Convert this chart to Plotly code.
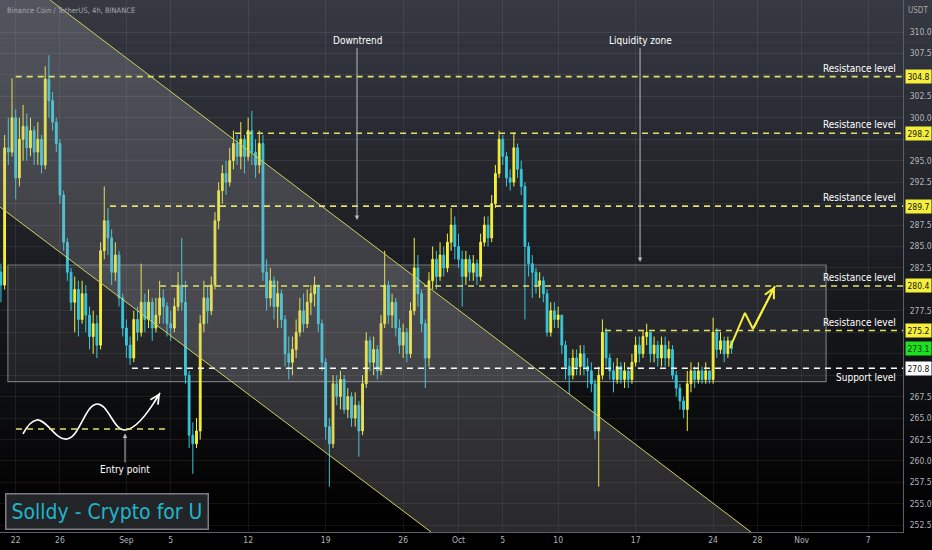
import pandas as pd
import plotly.graph_objects as go

# --- price data, 8h candles ---
first_open = 280.0
closes = [
    282, 280.5, 296.5, 296, 300, 293, 297.5, 299, 296.5, 298.5,
    296, 297.5, 294.5, 304.5, 302, 299.5, 297, 291, 285.5, 282,
    278.5, 280, 276.5, 279.5, 277, 274.5, 276, 273.5, 284.5, 288,
    286, 282, 284, 279, 275.5, 273.5, 272, 276.5, 275, 278.5,
    276.5, 278.5, 275.5, 277, 279, 278, 276, 275.5, 278, 280.5,
    278.5, 270, 263, 262, 263.5, 276, 279, 277.5, 280.5, 288,
    291.5, 293.5, 292.5, 295, 297, 295.5, 297.5, 295.5, 298.5, 296,
    294.5, 297, 282, 279, 281, 278, 279.5, 276.5, 272.5, 271.5,
    273, 275, 277.5, 276, 278.5, 279.5, 280.5, 276, 271.5, 264,
    262, 269, 267.5, 269.5, 266, 267.5, 265, 266.5, 263.5, 269,
    274, 271.5, 273, 270.5, 276, 280.5, 277, 278.5, 275.5, 273.5,
    275, 272.5, 277.5, 282.5, 279.5, 276, 272, 281, 283.5, 281.5,
    284, 282.5, 285.5, 287.5, 285, 283.5, 281.5, 283.5, 282, 283,
    281.5, 285.5, 287.5, 286, 290, 293.5, 297.5, 295.5, 293, 292.5,
    296.5, 294, 292, 285, 283, 282, 280.5, 281, 279.5, 275,
    277.5, 276.5, 277, 273.5, 271, 270, 272, 271, 272.5, 271,
    270.5, 269, 263.5, 270, 275, 272, 270.5, 269.5, 271, 269.5,
    270.5, 269.5, 271.5, 273.5, 272.5, 274.5, 275, 272.5, 273.5, 272,
    273.5, 272, 273, 270, 268.5, 267, 266, 269, 270.5, 269.5,
    270.5, 269.5, 270.5, 269.5, 275, 273, 274, 272.5, 274, 273.1,
]
highs = [
    285, 283, 298, 300, 304.6, 301, 300, 301.5, 300.5, 300,
    299, 299.5, 298, 306, 307.3, 303, 300, 297.5, 291.5, 286,
    282.5, 281.5, 281, 281, 280.5, 278, 277.5, 277, 285.5, 292,
    289.5, 287, 285.5, 284.5, 279.5, 276.5, 274.5, 277.5, 278, 283,
    279.5, 280, 279, 279, 281, 280, 278.5, 277.5, 279, 282,
    286, 281, 270.5, 264.5, 265, 277, 281, 280.5, 281.5, 289,
    292.5, 294.5, 295, 296.5, 298.5, 298, 299.5, 298, 300, 300.8,
    297.5, 298.5, 298, 283.5, 282.5, 281.5, 281, 280, 277, 274.5,
    274.5, 276.5, 279, 279.5, 280, 280.5, 281.5, 280.5, 276.5, 272,
    265, 270, 270, 270.5, 270, 268.5, 268, 268, 267, 270,
    275, 274.5, 274.5, 273.5, 277, 284.5, 281, 279.5, 279, 276.5,
    276, 275.5, 278.5, 286, 284, 280, 276.5, 282, 285, 284.5,
    285.5, 285, 286.5, 289.5, 288.5, 286.5, 284.5, 284.5, 284, 284,
    283.5, 286.5, 288.5, 288.5, 291, 294.5, 298.5, 298, 296, 294,
    298.3, 297, 295, 292.5, 285.5, 284, 282.5, 282, 281.5, 280,
    278.5, 278.5, 278, 277, 274, 272, 273, 273, 273.5, 273.5,
    272, 271.5, 269.5, 271, 276.5, 275.5, 272.5, 271.5, 272, 271.5,
    271.5, 271, 272.5, 274.5, 274.5, 275.2, 276, 275, 274.5, 274,
    274.5, 274.5, 274, 273.5, 270.5, 269, 267.5, 270.5, 271.5, 271,
    271.5, 271, 271.5, 270.5, 276.7, 275.5, 275, 274.5, 274.5, 274,
]
lows = [
    279, 278.5, 280, 294.5, 295.5, 290.5, 292, 295, 295, 295.5,
    294.5, 294.5, 293.5, 294, 300, 298.5, 296, 290, 284.5, 281,
    277.5, 275, 274.5, 276, 275, 273, 272.5, 272, 273, 283.5,
    284, 280.5, 281, 278, 274.5, 272, 271.2, 271.5, 274, 274.5,
    275, 275.5, 274, 275, 276, 276, 274.5, 274, 275, 277.5,
    277.5, 269, 261.5, 258.5, 261.5, 262.5, 275, 276, 277, 280,
    287, 290, 291, 292, 294, 294.5, 294, 293.5, 295, 294.5,
    293, 293.5, 281, 277.5, 278, 276.5, 275.5, 275.5, 271, 269.5,
    270, 272, 274.5, 275, 275.5, 277, 278, 275, 270.5, 262.5,
    257, 261.5, 266.5, 266, 265.5, 265, 264, 264, 260.5, 263,
    268.5, 270.5, 270, 269.5, 270, 275.5, 276, 275.5, 274.5, 272.5,
    272, 271.5, 272, 277, 278, 275, 268.5, 271, 280, 280,
    281, 281.5, 282, 284.5, 283.5, 282.5, 278, 280.5, 281, 281,
    280.5, 281, 285, 285, 285.5, 289.5, 293, 294.5, 292, 291.5,
    292, 293, 291, 276.5, 281.5, 279, 279.5, 279, 278.5, 274.5,
    274.5, 275.5, 275.5, 272.5, 269.5, 267.8, 269.5, 270, 270, 270,
    268.5, 268, 262.5, 257, 269.5, 271, 269.5, 268, 269, 269,
    268.5, 268.5, 269, 271, 271.5, 272, 273.5, 271.5, 271.5, 271,
    271, 271, 271, 269.5, 267.5, 266, 265, 263.5, 268, 268.5,
    269, 269, 269, 269, 269, 272, 272.5, 271.5, 272, 272.5,
]
times = pd.date_range("2022-08-20 08:00", periods=len(closes), freq="8h")
opens = [first_open] + closes[:-1]

# horizontal levels
res_prices = [304.8, 298.2, 289.7, 280.4, 275.2]
res_starts = ["2022-08-22 00:00", "2022-09-10 19:30", "2022-08-30 12:30",
              "2022-09-04 01:00", "2022-10-14 05:30"]
support_price = 270.8
support_start = "2022-09-01 12:00"
last_price = 273.1

# drawings
channel_upper = (["2022-08-25 02:24", "2022-10-27 10:05"], [313.73, 251.72])
channel_lower = (["2022-08-20 13:58", "2022-09-28 12:30"], [289.6, 251.72])
zone_x = ["2022-08-21 07:00", "2022-11-03 05:00"]
zone_y = [269.24, 282.84]
sketch_x = ["2022-08-22 15:50", "2022-08-23 22:00", "2022-08-26 15:20",
            "2022-08-29 08:24", "2022-08-31 21:00", "2022-09-04 01:00"]
sketch_y = [263.15, 264.78, 262.56, 266.64, 263.61, 267.93]
entry_line_x = ["2022-08-22 00:40", "2022-09-04 20:20"]
entry_line_y = 263.73
path_x = ["2022-10-25 12:30", "2022-10-26 21:00", "2022-10-27 14:24", "2022-10-29 14:10"]
path_y = [273.17, 277.25, 275.38, 280.4]

tick_dates = ["2022-08-22", "2022-08-26", "2022-09-01", "2022-09-05", "2022-09-12",
              "2022-09-19", "2022-09-26", "2022-10-01", "2022-10-05", "2022-10-10",
              "2022-10-17", "2022-10-24", "2022-10-28", "2022-11-01", "2022-11-07"]
tick_text = ["22", "26", "Sep", "5", "12", "19", "26", "Oct", "5", "10",
             "17", "24", "28", "Nov", "7"]
price_ticks = [252.5 + 2.5 * i for i in range(24)]

X_RANGE = ["2022-08-20 13:58", "2022-11-10 03:40"]
Y_RANGE = [251.72, 313.73]

YELLOW = "#f5ef3c"
CYAN = "#38c6da"
DASH_Y = "#e2e26a"
FONT = "DejaVu Sans Condensed, DejaVu Sans, sans-serif"

# price labels that sit in boxes on the axis hide the tick labels under them
boxed = res_prices + [support_price, last_price]
price_text = ["" if min(abs(v - b) for b in boxed) < 1.3 else "%.1f" % v for v in price_ticks]

fig = go.Figure()

# channel fill
fig.add_trace(go.Scatter(
    x=[channel_upper[0][0], channel_upper[0][1], channel_lower[0][1], channel_lower[0][0], channel_lower[0][0]],
    y=[channel_upper[1][0], channel_upper[1][1], channel_lower[1][1], channel_lower[1][0], channel_upper[1][0]],
    fill="toself", fillcolor="rgba(175,176,182,0.24)", line=dict(width=0),
    mode="lines", hoverinfo="skip", showlegend=False))

fig.add_trace(go.Candlestick(
    x=times, open=opens, high=highs, low=lows, close=closes,
    increasing=dict(line=dict(color=YELLOW, width=1), fillcolor=YELLOW),
    decreasing=dict(line=dict(color=CYAN, width=1), fillcolor=CYAN),
    whiskerwidth=0, showlegend=False))

# entry sketch
fig.add_trace(go.Scatter(x=sketch_x, y=sketch_y, mode="lines",
                         line=dict(color="white", width=1.6, shape="spline", smoothing=1.2),
                         hoverinfo="skip", showlegend=False))
fig.add_trace(go.Scatter(x=path_x, y=path_y, mode="lines",
                         line=dict(color=YELLOW, width=2),
                         hoverinfo="skip", showlegend=False))

shapes = []
# background gradient
n = 60
for i in range(n):
    t = i / (n - 1)
    k = max(0.0, 1 - t * 1.02)
    c = "rgb(%d,%d,%d)" % (54 * k, 57 * k, 66 * k)
    y1 = 1 - i / n * 1.034
    y0 = 1 - (i + 1) / n * 1.034
    shapes.append(dict(type="rect", xref="paper", yref="paper", x0=0, x1=1.04,
                       y0=y0, y1=y1 + 0.001, fillcolor=c, line=dict(width=0), layer="below"))

shapes.append(dict(type="rect", xref="x", yref="y", x0=zone_x[0], x1=zone_x[1],
                   y0=zone_y[0], y1=zone_y[1], fillcolor="rgba(200,200,205,0.10)",
                   line=dict(color="rgba(190,190,195,0.55)", width=1.2), layer="below"))

for line in (channel_upper, channel_lower):
    shapes.append(dict(type="line", xref="x", yref="y", x0=line[0][0], x1=line[0][1],
                       y0=line[1][0], y1=line[1][1], line=dict(color="#cfcf62", width=1)))

for p, s in zip(res_prices, res_starts):
    shapes.append(dict(type="line", xref="x", yref="y", x0=s, x1=X_RANGE[1], y0=p, y1=p,
                       line=dict(color=DASH_Y, width=1.6, dash="6px,5px")))
shapes.append(dict(type="line", xref="x", yref="y", x0=support_start, x1=X_RANGE[1],
                   y0=support_price, y1=support_price,
                   line=dict(color="white", width=1.6, dash="6px,5px")))
shapes.append(dict(type="line", xref="x", yref="y", x0=entry_line_x[0], x1=entry_line_x[1],
                   y0=entry_line_y, y1=entry_line_y,
                   line=dict(color=DASH_Y, width=1.6, dash="6px,5px")))

annotations = []
for p in res_prices:
    annotations.append(dict(xref="paper", yref="y", x=0.995, y=p, xanchor="right", yanchor="bottom",
                            yshift=1, text="Resistance level", showarrow=False,
                            font=dict(family=FONT, size=10, color="white")))
    annotations.append(dict(xref="paper", yref="y", x=1.002, y=p, xanchor="left", yanchor="middle",
                            text="%.1f" % p, showarrow=False, bgcolor=YELLOW, borderpad=1.5,
                            font=dict(family=FONT, size=8.5, color="#111111")))
annotations.append(dict(xref="paper", yref="y", x=0.995, y=support_price, xanchor="right",
                        yanchor="top", yshift=-2, text="Support level", showarrow=False,
                        font=dict(family=FONT, size=10, color="white")))
annotations.append(dict(xref="paper", yref="y", x=1.002, y=support_price, xanchor="left",
                        yanchor="middle", text="%.1f" % support_price, showarrow=False,
                        bgcolor="white", borderpad=1.5, font=dict(family=FONT, size=8.5, color="#111111")))
annotations.append(dict(xref="paper", yref="y", x=1.002, y=last_price, xanchor="left",
                        yanchor="middle", text="%.1f" % last_price, showarrow=False,
                        bgcolor="#1fe01f", borderpad=1.5, font=dict(family=FONT, size=8.5, color="#0a3a0a")))

arrow_style = dict(showarrow=True, arrowhead=2, arrowsize=0.9, arrowwidth=1,
                   arrowcolor="#b8bbc2", font=dict(family=FONT, size=10, color="white"))
annotations.append(dict(x="2022-09-21 20:00", y=288.1, ax=0, ay=-179, text="Downtrend", **arrow_style))
annotations.append(dict(x="2022-10-17 09:36", y=283.2, ax=0, ay=-221, text="Liquidity zone", **arrow_style))
annotations.append(dict(x="2022-08-31 21:00", y=263.2, ax=0, ay=36, text="Entry point", **arrow_style))

# arrow heads on the drawn paths
annotations.append(dict(x=sketch_x[-1], y=sketch_y[-1], ax=-7, ay=11, text="", showarrow=True,
                        arrowhead=5, arrowsize=1.1, arrowwidth=1.6, arrowcolor="white"))
annotations.append(dict(x=path_x[-1], y=path_y[-1], axref="x", ayref="y", ax=path_x[-2], ay=path_y[-2],
                        text="", showarrow=True, arrowhead=5, arrowsize=1.0, arrowwidth=2,
                        arrowcolor=YELLOW))

annotations.append(dict(xref="paper", yref="paper", x=0.005, y=1, xanchor="left", yanchor="top",
                        yshift=-4, text="Binance Coin / TetherUS, 4h, BINANCE", showarrow=False,
                        font=dict(family=FONT, size=7.5, color="#a3a6ae")))
annotations.append(dict(xref="paper", yref="paper", x=1.017, y=1, xanchor="center", yanchor="top",
                        yshift=-4, text="USDT", showarrow=False,
                        font=dict(family=FONT, size=8, color="#a3a6ae")))
annotations.append(dict(xref="paper", yref="paper", x=0.0055, y=0.004, xanchor="left", yanchor="bottom",
                        text="Solldy - Crypto for U", showarrow=False, bgcolor="rgba(38,40,44,0.9)",
                        bordercolor="#7a7d84", borderwidth=1.5, borderpad=5,
                        font=dict(family=FONT, size=21, color="#20b6c9")))

fig.update_layout(
    width=932, height=550,
    margin=dict(l=0, r=29, t=0, b=18),
    paper_bgcolor="black", plot_bgcolor="rgba(0,0,0,0)",
    shapes=shapes, annotations=annotations,
    showlegend=False,
    xaxis=dict(type="date", range=X_RANGE, rangeslider=dict(visible=False),
               tickvals=tick_dates, ticktext=tick_text, ticks="",
               tickfont=dict(family=FONT, size=8.5, color="#b2b5be"),
               showgrid=True, gridcolor="rgba(255,255,255,0.07)", gridwidth=1,
               showline=True, linecolor="#5d6068", linewidth=1, zeroline=False),
    yaxis=dict(range=Y_RANGE, side="right", tickvals=price_ticks,
               ticktext=price_text, ticks="", ticklabelstandoff=4,
               tickfont=dict(family=FONT, size=8.5, color="#b2b5be"),
               showgrid=True, gridcolor="rgba(255,255,255,0.07)", gridwidth=1,
               showline=True, linecolor="#5d6068", linewidth=1, zeroline=False),
)

fig.write_html("out.html", config={"displayModeBar": False},
               post_script="document.body.style.margin='0';")
